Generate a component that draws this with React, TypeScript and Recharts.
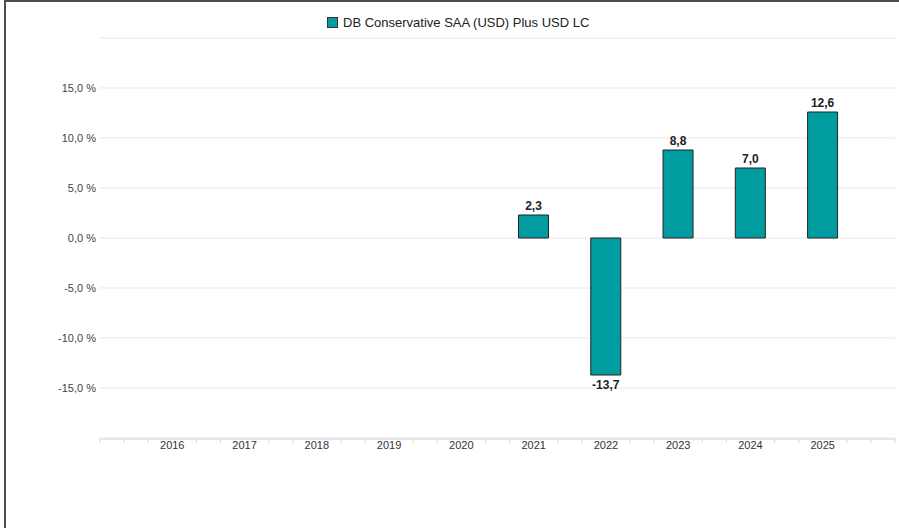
import React from 'react'
import { Bar, BarChart, CartesianGrid, LabelList, XAxis, YAxis } from 'recharts'

const years = [2016, 2017, 2018, 2019, 2020, 2021, 2022, 2023, 2024, 2025]
const returns: (number | null)[] = [null, null, null, null, null, 2.3, -13.7, 8.8, 7.0, 12.6]
const yTicks = [-20, -15, -10, -5, 0, 5, 10, 15, 20]
const seriesName = 'DB Conservative SAA (USD) Plus USD LC'

const data = years.map((year, i) => ({ year, value: returns[i] }))

const first = years[0] - 1
const last = years[years.length - 1] + 1
// small marks between the year labels, three per year
const minorTicks = [first, ...years.flatMap((y) => [y - 2 / 3, y - 1 / 3]), last - 2 / 3, last - 1 / 3, last]

const TEAL = '#009ca0'
const FONT = '"Liberation Sans", Arial, sans-serif'

const fmt = (v: number) => v.toFixed(1).replace('.', ',')

function YearTick(props: any) {
  const { x, y, payload } = props
  return (
    <text x={x} y={y + 2} textAnchor="middle" fontSize={11} fill="#333" fontFamily={FONT}>
      {payload.value}
    </text>
  )
}

export default function App() {
  return (
    <div style={{ position: 'absolute', left: 0, top: 0, width: 899, height: 528, background: '#fff', fontFamily: FONT }}>
      <div
        style={{
          position: 'absolute',
          left: 4,
          top: 0,
          width: 895,
          height: 528,
          borderTop: '2px solid #4d4d4d',
          borderLeft: '2px solid #4d4d4d',
          boxSizing: 'border-box',
        }}
      />
      <div style={{ position: 'absolute', left: 327, top: 15, display: 'flex', alignItems: 'center', fontSize: 13, color: '#222' }}>
        <span style={{ width: 9, height: 9, background: TEAL, border: '1px solid #333', marginRight: 5 }} />
        <span>{seriesName}</span>
      </div>
      <div style={{ position: 'absolute', left: 0, top: 0 }}>
        <BarChart width={899} height={528} data={data} margin={{ top: 38, right: 4, left: 0, bottom: 60 }}>
          <CartesianGrid vertical={false} stroke="#e6e6e6" />
          <XAxis
            xAxisId="minor"
            dataKey="year"
            type="number"
            domain={[first, last]}
            ticks={minorTicks}
            height={1}
            axisLine={false}
            tickFormatter={() => ''}
            tickLine={{ stroke: '#d6d6d6' }}
            tickSize={5}
          />
          <XAxis
            xAxisId="year"
            dataKey="year"
            type="number"
            domain={[first, last]}
            ticks={years}
            height={29}
            axisLine={{ stroke: '#e6e6e6', strokeWidth: 2 }}
            tickLine={false}
            tick={<YearTick />}
          />
          <YAxis
            domain={[-20, 20]}
            ticks={yTicks}
            width={100}
            axisLine={false}
            tickLine={false}
            tickSize={0}
            tickMargin={4}
            tickFormatter={(v: number) => (Math.abs(v) === 20 ? '' : `${fmt(v)} %`)}
            tick={{ fontSize: 11, fill: '#444', fontFamily: FONT }}
          />
          <Bar
            xAxisId="year"
            dataKey="value"
            name={seriesName}
            fill={TEAL}
            stroke="#222"
            strokeWidth={1}
            barSize={30}
            isAnimationActive={false}
          >
            <LabelList
              dataKey="value"
              position="top"
              offset={5}
              fill="#222"
              fontSize={12}
              fontWeight="bold"
              fontFamily={FONT}
              formatter={(v: any) => (v == null ? '' : fmt(Number(v)))}
            />
          </Bar>
        </BarChart>
      </div>
    </div>
  )
}
